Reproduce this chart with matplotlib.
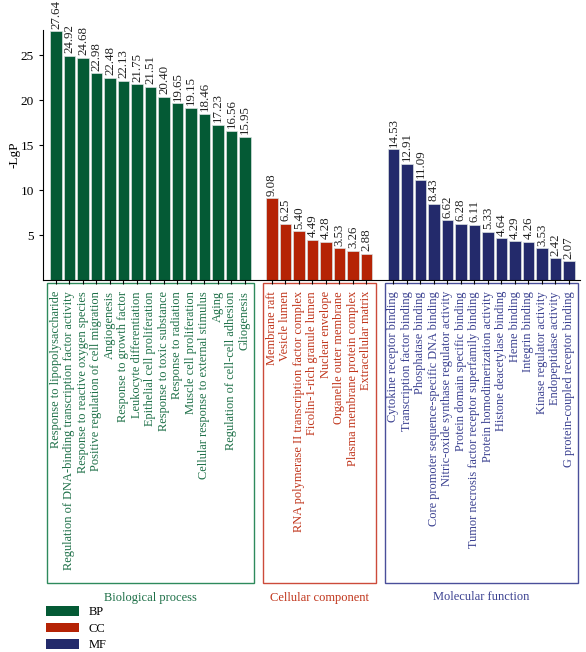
import numpy as np
import matplotlib
matplotlib.use("Agg")
import matplotlib.pyplot as plt
from matplotlib.patches import Rectangle, Patch

plt.rcParams['font.family'] = ['Liberation Serif', 'DejaVu Serif']

# GO terms and -LgP values
bp_terms = ["Response to lipopolysaccharide",
            "Regulation of DNA-binding transcription factor activity",
            "Response to reactive oxygen species",
            "Positive regulation of cell migration",
            "Angiogenesis",
            "Response to growth factor",
            "Leukocyte differentiation",
            "Epithelial cell proliferation",
            "Response to toxic substance",
            "Response to radiation",
            "Muscle cell proliferation",
            "Cellular response to external stimulus",
            "Aging",
            "Regulation of cell-cell adhesion",
            "Gliogenesis"]
bp_vals = [27.64, 24.92, 24.68, 22.98, 22.48, 22.13, 21.75, 21.51,
           20.40, 19.65, 19.15, 18.46, 17.23, 16.56, 15.95]

cc_terms = ["Membrane raft",
            "Vesicle lumen",
            "RNA polymerase II transcription factor complex",
            "Ficolin-1-rich granule lumen",
            "Nuclear envelope",
            "Organelle outer membrane",
            "Plasma membrane protein complex",
            "Extracellular matrix"]
cc_vals = [9.08, 6.25, 5.40, 4.49, 4.28, 3.53, 3.26, 2.88]

mf_terms = ["Cytokine receptor binding",
            "Transcription factor binding",
            "Phosphatase binding",
            "Core promoter sequence-specific DNA binding",
            "Nitric-oxide synthase regulator activity",
            "Protein domain specific binding",
            "Tumor necrosis factor receptor superfamily binding",
            "Protein homodimerization activity",
            "Histone deacetylase binding",
            "Heme binding",
            "Integrin binding",
            "Kinase regulator activity",
            "Endopeptidase activity",
            "G protein-coupled receptor binding"]
mf_vals = [14.53, 12.91, 11.09, 8.43, 6.62, 6.28, 6.11, 5.33,
           4.64, 4.29, 4.26, 3.53, 2.42, 2.07]

groups = [("BP", "Biological process", bp_terms, bp_vals, "#045a35", "#1e7048", "#2e8a5c"),
          ("CC", "Cellular component", cc_terms, cc_vals, "#b52305", "#c0341a", "#cc4b3a"),
          ("MF", "Molecular function", mf_terms, mf_vals, "#232a6b", "#3a4090", "#4a4f9a")]

fig = plt.figure(figsize=(5.86, 6.52), dpi=100)
ax = fig.add_axes([43 / 586, 1 - 280 / 652, 537 / 586, 250 / 652])

all_pos, all_labels, all_colors = [], [], []
start = 0
for short, longname, terms, vals, bar_c, txt_c, box_c in groups:
    pos = np.arange(start, start + len(vals))
    ax.bar(pos, vals, width=0.86, color=bar_c, edgecolor="#d8e0e0",
           linewidth=0.5)
    for p, v in zip(pos, vals):
        ax.text(p, v + 0.3, f"{v:.2f}", rotation=90, ha="center", va="bottom",
                fontsize=9.3, color="#222222", clip_on=False)
    all_pos += list(pos)
    all_labels += terms
    all_colors += [txt_c] * len(terms)

    # group box below the axis
    x0, x1 = pos[0] - 0.65, pos[-1] + 0.7
    trans = ax.get_xaxis_transform()
    ax.add_patch(Rectangle((x0, -1.212), x1 - x0, 1.2, transform=trans,
                           fill=False, edgecolor=box_c, linewidth=1.0,
                           clip_on=False))
    ax.text((x0 + x1) / 2, -1.27, longname, transform=trans, ha="center",
            va="center", fontsize=9, color=txt_c)
    start += len(vals) + 1

ax.set_xticks(all_pos)
ax.set_xticklabels(all_labels, rotation=90, fontsize=8.9, va="top", ha="center")
for lbl, c in zip(ax.get_xticklabels(), all_colors):
    lbl.set_color(c)
ax.tick_params(axis="x", length=3, pad=5)

ax.set_xlim(-0.96, 38.82)
ax.set_ylim(0, 27.8)
ax.set_yticks([5, 10, 15, 20, 25])
ax.tick_params(axis="y", labelsize=9.5, length=3)
ax.set_ylabel("-LgP", fontsize=9.5)
ax.yaxis.set_label_coords(-0.042, 0.5)
ax.spines["top"].set_visible(False)
ax.spines["right"].set_visible(False)

handles = [Patch(facecolor=g[4], edgecolor="none", label=g[0]) for g in groups]
fig.legend(handles=handles, loc="upper left", bbox_to_anchor=(0.07, 0.078),
           frameon=False, fontsize=9, handlelength=2.6, handleheight=0.8,
           labelspacing=0.35, borderaxespad=0)

fig.savefig("out.png", dpi=100)
